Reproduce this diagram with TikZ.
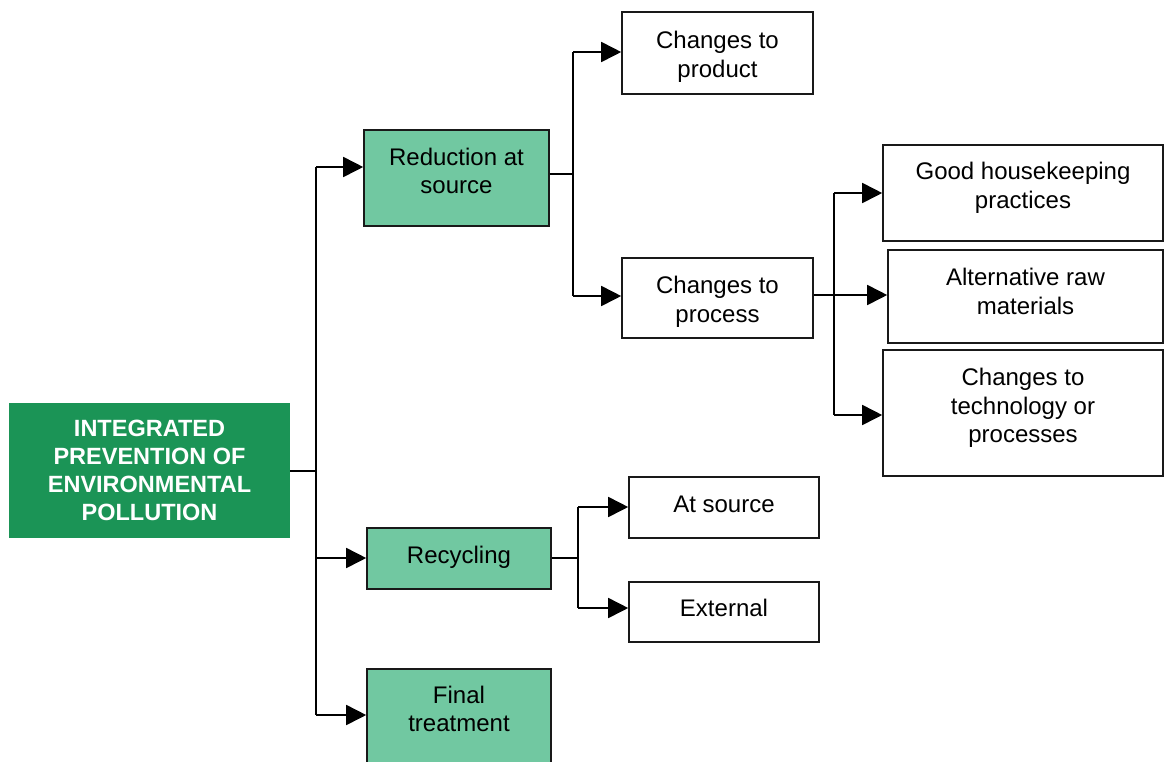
\documentclass[tikz,border=0pt]{standalone}
\usepackage{fontspec}
\setmainfont{Liberation Sans}
\usetikzlibrary{arrows.meta}
\definecolor{rootgreen}{RGB}{27,148,86}
\definecolor{lightgreen}{RGB}{113,200,161}
\tikzset{
  boxfont/.style={font=\fontsize{24}{28.5}\selectfont},
  box/.style={draw=black!90, line width=1.6pt, rectangle, inner sep=0pt},
  greenbox/.style={box, fill=lightgreen},
  rootbox/.style={rectangle, fill=rootgreen, inner sep=0pt, align=center,
    text=white, font=\bfseries\fontsize{23.5}{28}\selectfont},
  link/.style={line width=1.7pt, black},
  arr/.style={link, -{Triangle[length=20pt,width=20pt]}},
}
\begin{document}
\begin{tikzpicture}[x=1pt,y=-1pt]
\useasboundingbox (0,0) rectangle (1164,761);
\clip (0,0) rectangle (1164,761);

% boxes: centre, width, height in page units; the text sits in a centre label
\node[rootbox, minimum width=281pt, minimum height=135pt] (root) at (149.5,470.5)
  {INTEGRATED\\PREVENTION OF\\ENVIRONMENTAL\\POLLUTION};

\node[greenbox, minimum width=185pt, minimum height=96pt,
  label={[boxfont, align=center, yshift=7pt]center:Reduction at\\source}] (red) at (456.5,178) {};
\node[greenbox, minimum width=184pt, minimum height=61pt,
  label={[boxfont, align=center, yshift=1pt]center:Recycling}] (rec) at (459,558.5) {};
\node[greenbox, minimum width=184pt, minimum height=110pt, anchor=north,
  label={[boxfont, align=center, yshift=15pt]center:Final\\treatment}] (fin) at (459,668) {};

\node[box, minimum width=191pt, minimum height=82pt,
  label={[boxfont, align=center, yshift=-4pt]center:Changes to\\product}] (prod) at (717.5,53) {};
\node[box, minimum width=191pt, minimum height=80pt,
  label={[boxfont, align=center, yshift=-4pt]center:Changes to\\process}] (proc) at (717.5,298) {};

\node[box, minimum width=280pt, minimum height=96pt,
  label={[boxfont, align=center, yshift=5pt]center:Good housekeeping\\practices}] (good) at (1023,193) {};
\node[box, minimum width=275pt, minimum height=93pt,
  label={[boxfont, align=center, yshift=5pt]center:Alternative raw\\materials}] (alt) at (1025.5,296.5) {};
\node[box, minimum width=280pt, minimum height=126pt,
  label={[boxfont, align=center, yshift=5pt]center:Changes to\\technology or\\processes}] (tech) at (1023,413) {};

\node[box, minimum width=190pt, minimum height=61pt,
  label={[boxfont, align=center, yshift=3pt]center:At source}] (src) at (724,507.5) {};
\node[box, minimum width=190pt, minimum height=60pt,
  label={[boxfont, align=center, yshift=4pt]center:External}] (ext) at (724,612) {};

% junction points of the tree
\coordinate (t0) at (316,471);
\coordinate (t1) at (316,167);
\coordinate (t2) at (316,558);
\coordinate (t3) at (316,715);

\coordinate (r0) at (573,174);
\coordinate (r1) at (573,52);
\coordinate (r2) at (573,296);

\coordinate (p0) at (834,295);
\coordinate (p1) at (834,193);
\coordinate (p2) at (834,415);

\coordinate (c0) at (578,558);
\coordinate (c1) at (578,507);
\coordinate (c2) at (578,608);

% root to the three strategies
\draw[link] (root.east |- t0) -- (t0);
\draw[link] (t1) -- (t3);
\draw[arr] (t1) -- (t1 -| red.west);
\draw[arr] (t2) -- (t2 -| rec.west);
\draw[arr] (t3) -- (t3 -| fin.west);

% reduction at source
\draw[link] (red.east |- r0) -- (r0);
\draw[link] (r1) -- (r2);
\draw[arr] (r1) -- (r1 -| prod.west);
\draw[arr] (r2) -- (r2 -| proc.west);

% changes to process
\draw[arr] (proc.east |- p0) -- (p0 -| alt.west);
\draw[link] (p1) -- (p2);
\draw[arr] (p1) -- (p1 -| good.west);
\draw[arr] (p2) -- (p2 -| tech.west);

% recycling
\draw[link] (rec.east |- c0) -- (c0);
\draw[link] (c1) -- (c2);
\draw[arr] (c1) -- (c1 -| src.west);
\draw[arr] (c2) -- (c2 -| ext.west);
\end{tikzpicture}
\end{document}
